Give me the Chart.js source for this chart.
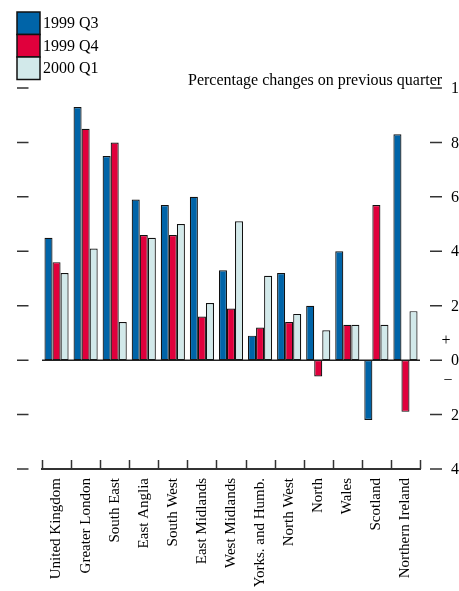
<!DOCTYPE html>
<html>
<head>
<meta charset="utf-8">
<script src="https://cdn.jsdelivr.net/npm/chart.js@4.4.1/dist/chart.umd.min.js"></script>
<style>
  html, body { margin: 0; padding: 0; background: #fff; }
  canvas { display: block; }
</style>
</head>
<body>
<canvas id="chart" width="459" height="591"></canvas>
<script>
const regions = ["United Kingdom", "Greater London", "South East", "East Anglia", "South West", "East Midlands",
  "West Midlands", "Yorks. and Humb.", "North West", "North", "Wales", "Scotland", "Northern Ireland"];
const q3_1999 = [4.5, 9.3, 7.5, 5.9, 5.7, 6.0, 3.3, 0.9, 3.2, 2.0, 4.0, -2.2, 8.3];
const q4_1999 = [3.6, 8.5, 8.0, 4.6, 4.6, 1.6, 1.9, 1.2, 1.4, -0.6, 1.3, 5.7, -1.9];
const q1_2000 = [3.2, 4.1, 1.4, 4.5, 5.0, 2.1, 5.1, 3.1, 1.7, 1.1, 1.3, 1.3, 1.8];
const yTicks = [10, 8, 6, 4, 2, 0, -2, -4];
const caption = "Percentage changes on previous quarter";

const serif = "'Liberation Serif', 'DejaVu Serif', serif";

// ticks, labels, legend and caption drawn by hand
const decorations = {
  id: "decorations",
  afterDatasetsDraw(chart) {
    const ctx = chart.ctx;
    const area = chart.chartArea;
    const x = chart.scales.x;
    const y = chart.scales.y;
    ctx.save();
    ctx.strokeStyle = "#222";
    ctx.lineWidth = 1.5;

    // zero line
    const y0 = y.getPixelForValue(0);
    ctx.beginPath();
    ctx.moveTo(area.left, y0);
    ctx.lineTo(area.right, y0);
    ctx.stroke();

    // category boundary ticks pointing up from the axis
    const step = x.getPixelForValue(1) - x.getPixelForValue(0);
    ctx.strokeStyle = "#333";
    for (let i = 0; i <= regions.length; i++) {
      const px = Math.round(x.getPixelForValue(0) - step / 2 + i * step) + 0.5;
      ctx.beginPath();
      ctx.moveTo(px, area.bottom - 9);
      ctx.lineTo(px, area.bottom);
      ctx.stroke();
    }

    // value ticks on both sides, labels on the right
    ctx.fillStyle = "#000";
    ctx.font = "16px " + serif;
    ctx.textAlign = "left";
    ctx.textBaseline = "middle";
    yTicks.forEach(v => {
      const py = y.getPixelForValue(v);
      ctx.beginPath();
      ctx.moveTo(17, py);
      ctx.lineTo(28.5, py);
      ctx.moveTo(430, py);
      ctx.lineTo(442, py);
      ctx.stroke();
      ctx.fillText(String(Math.abs(v)), 451, py + 1);
    });
    ctx.textAlign = "center";
    ctx.fillText("+", 446, y.getPixelForValue(0.7));
    ctx.fillText("\u2212", 448, y.getPixelForValue(-0.75));

    // caption
    ctx.textAlign = "left";
    ctx.textBaseline = "alphabetic";
    ctx.fillText(caption, 188, 85);

    // legend
    ctx.textBaseline = "middle";
    chart.data.datasets.forEach((ds, i) => {
      const top = 12 + i * 22.5;
      ctx.fillStyle = ds.backgroundColor;
      ctx.fillRect(17, top, 23, 22.5);
      ctx.strokeStyle = "#111";
      ctx.strokeRect(17, top, 23, 22.5);
      ctx.fillStyle = "#000";
      ctx.fillText(ds.label, 43, top + 12);
    });
    ctx.restore();
  }
};

const bar = (label, data, color) => ({
  label,
  data,
  backgroundColor: color,
  borderColor: "#111",
  borderWidth: 1.2,
  borderSkipped: false,
  categoryPercentage: 0.83,
  barPercentage: 1.0
});

new Chart(document.getElementById("chart"), {
  type: "bar",
  data: {
    labels: regions,
    datasets: [
      bar("1999 Q3", q3_1999, "#0064a8"),
      bar("1999 Q4", q4_1999, "#e0003c"),
      bar("2000 Q1", q1_2000, "#d2e9ea")
    ]
  },
  options: {
    responsive: false,
    animation: false,
    layout: { padding: { top: 88, left: 42, right: 39, bottom: 0 } },
    plugins: { legend: { display: false }, tooltip: { enabled: false } },
    scales: {
      x: {
        grid: { display: false, drawTicks: false },
        border: { display: true, color: "#333", width: 2 },
        ticks: {
          color: "#000",
          font: { family: serif, size: 15 },
          minRotation: 90,
          maxRotation: 90,
          autoSkip: false,
          padding: 9
        },
        afterFit(scale) { scale.height = 122; }
      },
      y: { display: false, min: -4, max: 10 }
    }
  },
  plugins: [decorations]
});
</script>
</body>
</html>
